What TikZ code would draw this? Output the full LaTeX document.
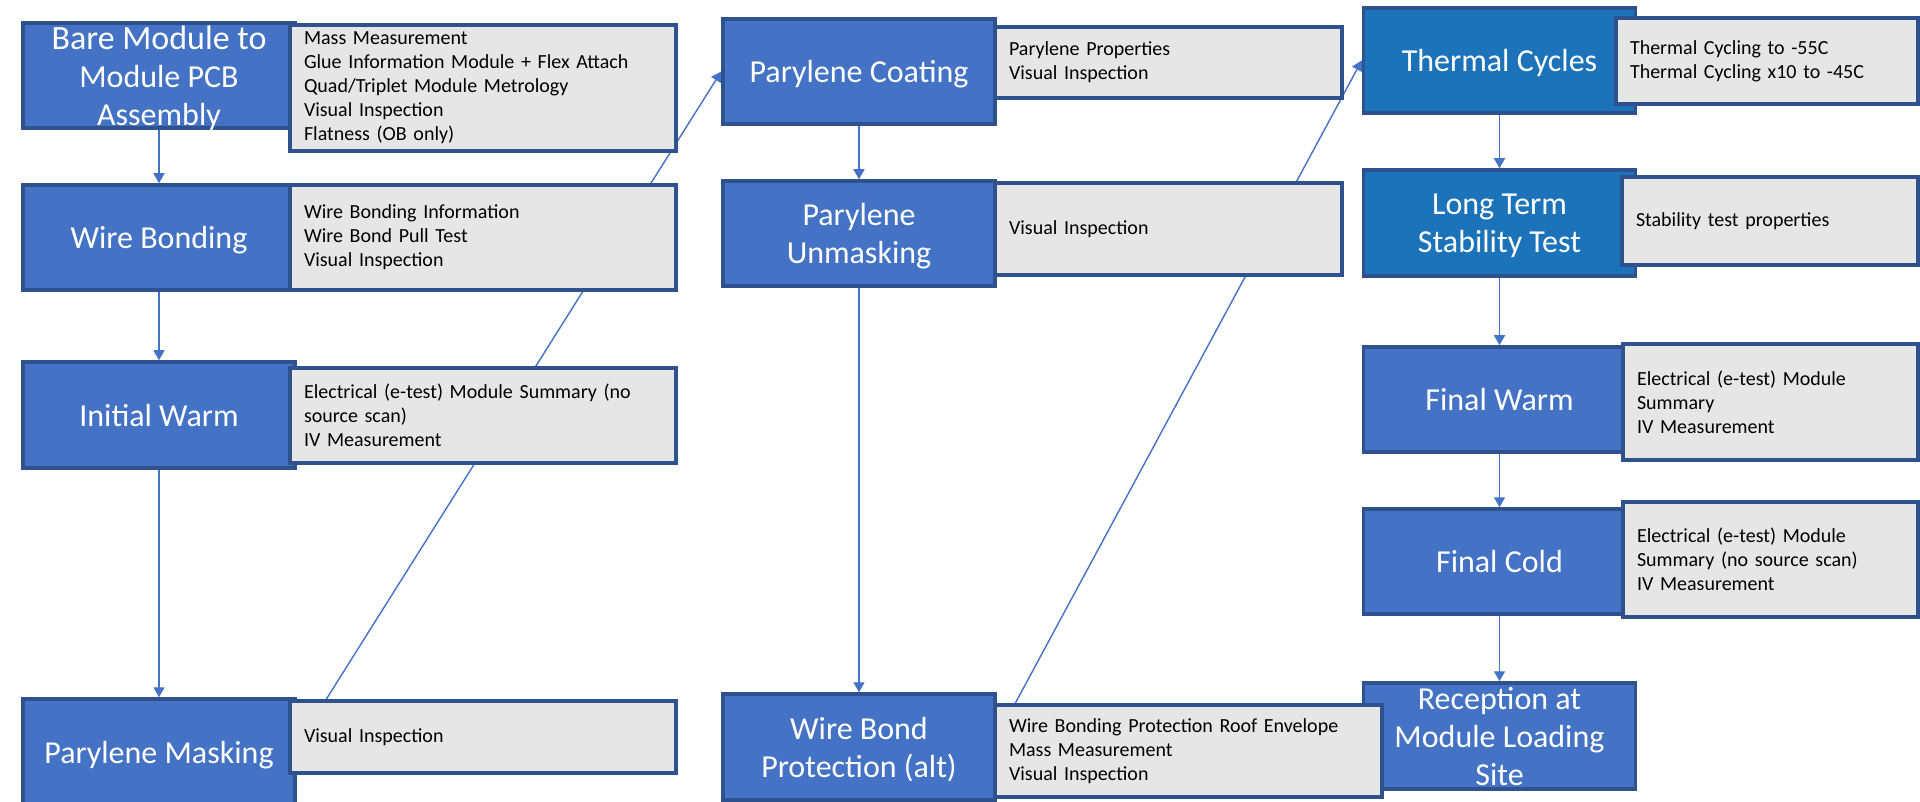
\documentclass[tikz,border=0pt]{standalone}
\usepackage{fontspec}
\setmainfont{Carlito}
\usetikzlibrary{arrows.meta,calc}
\definecolor{boxblue}{HTML}{4472C4}
\definecolor{darkblue}{HTML}{1C73BA}
\definecolor{edgeblue}{HTML}{2F528F}
\definecolor{panelgray}{HTML}{E7E6E6}
\definecolor{linkblue}{HTML}{4472C4}
\pgfdeclarelayer{bg}
\pgfsetlayers{bg,main}
\tikzset{
  stagebox/.style={draw=edgeblue, fill=boxblue, line width=3.5pt, minimum width=272pt,
    minimum height=105pt, inner sep=0pt, text=white, align=center, text depth=0pt,
    font=\fontsize{32}{38}\selectfont},
  darkstage/.style={stagebox, fill=darkblue},
  biglabel/.style={text=white, align=center, inner sep=0pt, text depth=0pt,
    font=\fontsize{32}{38}\selectfont},
  infobox/.style={draw=edgeblue, fill=panelgray, line width=3.5pt, inner xsep=14pt,
    inner ysep=0pt, align=left, text=black, font=\fontsize{20}{24}\selectfont},
  link/.style={draw=linkblue, line width=1.4pt, -{Triangle[width=11pt,length=10pt]}}
}
\begin{document}
\begin{tikzpicture}[x=1pt,y=-1pt]
\useasboundingbox (0,0) rectangle (1920,802);

% ---- stage boxes (blue) ----
\node[stagebox, label={[biglabel]center:{\fontsize{34}{38}\selectfont Bare Module to}\\Module PCB\\Assembly}] (bare) at (159,75.5) {};
\node[stagebox] (wb) at (159,237.5) {Wire Bonding};
\node[stagebox, minimum height=106pt] (iw) at (159,415) {Initial Warm};
\node[stagebox, minimum height=106pt] (pm) at (159,752) {Parylene Masking};

\node[stagebox] (pc) at (859,71.5) {Parylene Coating};
\node[stagebox] (pu) at (859,233.5) {Parylene\\Unmasking};
\node[stagebox, minimum height=106pt] (wbp) at (859,747) {Wire Bond\\Protection (alt)};

\node[darkstage] (tc) at (1499.5,60.5) {Thermal Cycles};
\node[darkstage, minimum height=106pt] (lt) at (1499.5,223) {Long Term\\Stability Test};
\node[stagebox] (fw) at (1499.5,399.5) {Final Warm};
\node[stagebox] (fc) at (1499.5,561.5) {Final Cold};
\node[stagebox, minimum height=106pt, label={[biglabel]center:Reception at\\Module Loading\\Site}] (rec) at (1499.5,736) {};

% ---- info boxes (gray) ----
\node[infobox, text width=358pt, minimum height=126pt] (bareg) at (483,88)
  {Mass Measurement\\Glue Information Module + Flex Attach\\Quad/Triplet Module Metrology\\Visual Inspection\\Flatness (OB only)};
\node[infobox, text width=358pt, minimum height=105pt] (wbg) at (483,237.5)
  {Wire Bonding Information\\Wire Bond Pull Test\\Visual Inspection};
\node[infobox, text width=358pt, minimum height=95pt] (iwg) at (483,415.5)
  {Electrical (e-test) Module Summary (no\\source scan)\\IV Measurement};
\node[infobox, text width=358pt, minimum height=72pt] (pmg) at (483,737)
  {Visual Inspection};

\node[infobox, text width=319pt, minimum height=71pt] (pcg) at (1168.5,62.5)
  {Parylene Properties\\Visual Inspection};
\node[infobox, text width=319pt, minimum height=92pt] (pug) at (1168.5,229)
  {Visual Inspection};
\node[infobox, text width=359pt, minimum height=92pt] (wbpg) at (1188.5,751)
  {Wire Bonding Protection Roof Envelope\\Mass Measurement\\Visual Inspection};

\node[infobox, text width=274pt, minimum height=86pt] (tcg) at (1767,61)
  {Thermal Cycling to -55C\\Thermal Cycling x10 to -45C};
\node[infobox, text width=268pt, minimum height=88pt] (ltg) at (1770,221)
  {Stability test properties};
\node[infobox, text width=267pt, minimum height=116pt] (fwg) at (1770.5,402)
  {Electrical (e-test) Module\\Summary\\IV Measurement};
\node[infobox, text width=267pt, minimum height=115pt] (fcg) at (1770.5,559.5)
  {Electrical (e-test) Module\\Summary (no source scan)\\IV Measurement};

% ---- connectors (behind the boxes) ----
\begin{pgfonlayer}{bg}
\draw[link] (bare.south) -- (wb.north);
\draw[link] (wb.south) -- (iw.north);
\draw[link] (iw.south) -- (pm.north);
\draw[link] ([xshift=38pt]pmg.north west) -- (pc.west);
\draw[link] (pc.south) -- (pu.north);
\draw[link] (pu.south) -- (wbp.north);
\draw[link] ([xshift=22pt]wbpg.north west) -- (tc.west);
\draw[link] (tc.south) -- (lt.north);
\draw[link] (lt.south) -- (fw.north);
\draw[link] (fw.south) -- (fc.north);
\draw[link] (fc.south) -- (rec.north);
\end{pgfonlayer}
\end{tikzpicture}
\end{document}
